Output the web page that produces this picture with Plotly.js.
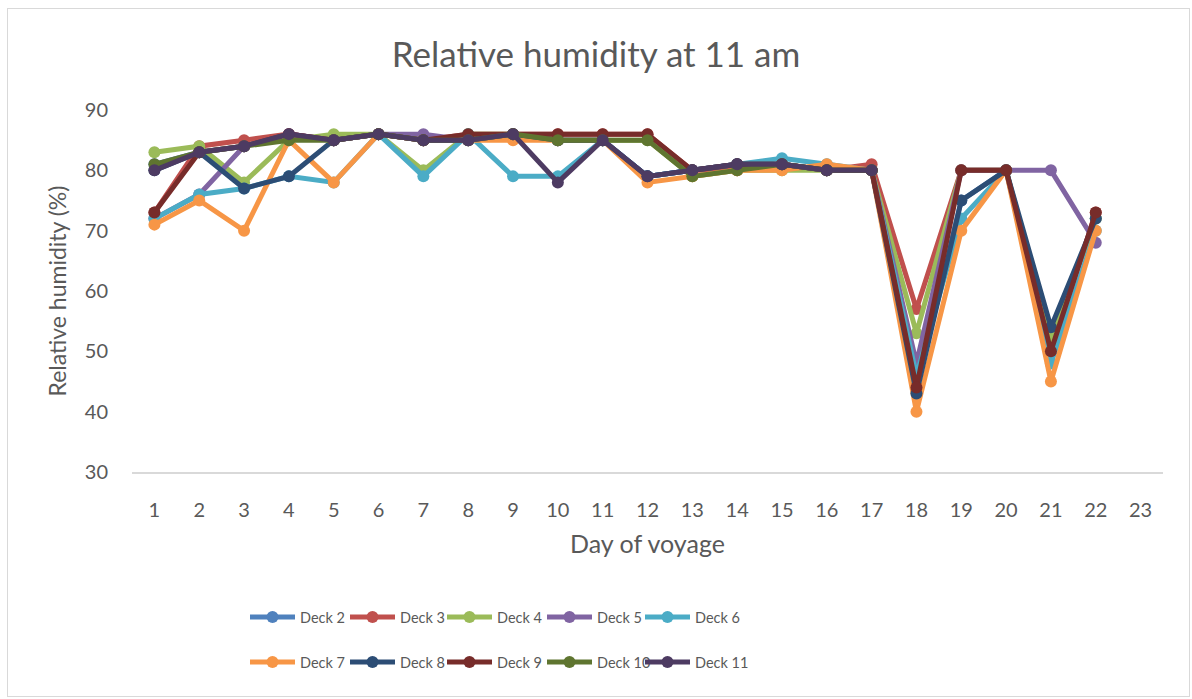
<!DOCTYPE html>
<html>
<head>
<meta charset="utf-8">
<script src="https://cdn.plot.ly/plotly-3.0.1.min.js"></script>
<style>
  html, body { margin: 0; padding: 0; background: #ffffff; }
  #frame { position: absolute; left: 7px; top: 8px; width: 1183px; height: 689px; border: 1px solid #d9d9d9; box-sizing: border-box; }
  #chart { position: absolute; left: 0; top: 0; width: 1192px; height: 699px; }
</style>
</head>
<body>
<div id="frame"></div>
<div id="chart"></div>
<script>
// Day of voyage (category labels)
const days = [1,2,3,4,5,6,7,8,9,10,11,12,13,14,15,16,17,18,19,20,21,22,23];

// Relative humidity (%) per deck (null = no reading)
const deck2  = [81,83,84,86,85,86,85,85,86,85,85,79,80,81,81,80,80,44,75,80,52,72,null];
const deck3  = [73,84,85,86,85,86,85,86,86,86,86,86,80,80,81,80,81,57,80,80,50,73,null];
const deck4  = [83,84,78,85,86,86,80,86,86,85,85,85,79,80,80,80,80,53,80,80,52,72,null];
const deck5  = [72,76,84,86,85,86,86,85,86,85,85,79,80,81,81,80,80,48,80,80,80,68,null];
const deck6  = [72,76,77,79,78,86,79,86,79,79,85,79,80,81,82,81,80,46,72,80,48,70,null];
const deck7  = [71,75,70,85,78,86,85,85,85,85,85,78,79,80,80,81,80,40,70,80,45,70,null];
const deck8  = [80,83,77,79,85,86,85,85,86,85,85,79,80,81,81,80,80,43,75,80,54,72,null];
const deck9  = [73,83,84,86,85,86,85,86,86,86,86,86,80,81,81,80,80,44,80,80,50,73,null];
const deck10 = [81,83,84,85,85,86,85,85,86,85,85,85,79,80,81,80,80,null,null,null,null,null,null];
const deck11 = [80,83,84,86,85,86,85,85,86,78,85,79,80,81,81,80,80,null,null,null,null,null,null];

const seriesNames = ["Deck 2","Deck 3","Deck 4","Deck 5","Deck 6","Deck 7","Deck 8","Deck 9","Deck 10","Deck 11"];
const seriesValues = [deck2,deck3,deck4,deck5,deck6,deck7,deck8,deck9,deck10,deck11];
const seriesColors = ["#4F81BD","#C0504D","#9BBB59","#8064A2","#4BACC6","#F79646","#2C4D75","#772C2A","#5F7530","#4D3B62"];

const FONT = "Lato, 'Open Sans', 'Liberation Sans', sans-serif";
const TXT = "#595959";

// one legend per entry so each can sit at its own spot (5 per row, 2 rows)
const legendKey = i => (i === 0 ? "legend" : "legend" + (i + 1));

const traces = seriesNames.map((name, i) => ({
  type: "scatter",
  mode: "lines+markers",
  name: name,
  x: days,
  y: seriesValues[i],
  line: { color: seriesColors[i], width: 5 },
  marker: { color: seriesColors[i], size: 12 },
  legend: legendKey(i),
  hoverinfo: "x+y+name"
}));

const legendCommon = {
  orientation: "h",
  xanchor: "left",
  yanchor: "middle",
  font: { family: FONT, size: 14.5, color: TXT },
  bgcolor: "rgba(0,0,0,0)",
  itemwidth: 45,
  xref: "container",
  yref: "container"
};

const layout = {
  width: 1192,
  height: 699,
  paper_bgcolor: "rgba(0,0,0,0)",
  plot_bgcolor: "rgba(0,0,0,0)",
  margin: { l: 132, r: 29, t: 110, b: 227 },
  showlegend: true,
  font: { family: FONT, color: TXT },
  title: {
    text: "Relative humidity at 11 am",
    font: { family: FONT, size: 35, color: TXT },
    x: 0.5, xref: "container", xanchor: "center",
    y: 55, yref: "container", yanchor: "middle"
  },
  xaxis: {
    range: [0.5, 23.5],
    tickmode: "array",
    tickvals: days,
    ticktext: days.map(String),
    showgrid: false,
    zeroline: false,
    showline: true,
    linecolor: "#d9d9d9",
    linewidth: 1.5,
    ticks: "",
    ticklabelstandoff: 19,
    tickfont: { family: FONT, size: 20, color: TXT },
    title: { text: "Day of voyage", font: { family: FONT, size: 25, color: TXT }, standoff: 16 },
    fixedrange: true
  },
  yaxis: {
    range: [30, 90],
    tickmode: "array",
    tickvals: [30,40,50,60,70,80,90],
    showgrid: false,
    zeroline: false,
    showline: false,
    ticks: "",
    ticklabelstandoff: 23,
    tickfont: { family: FONT, size: 20, color: TXT },
    title: { text: "Relative humidity (%)", font: { family: FONT, size: 23, color: TXT }, standoff: 11 },
    fixedrange: true
  }
};

// text start positions of the legend entries (px), minus symbol + gap
const legendX = [245, 345, 442, 542, 640];
const legendY = [617, 662];
seriesNames.forEach((n, i) => {
  layout[legendKey(i)] = Object.assign({}, legendCommon, {
    x: legendX[i % 5] / 1192,
    y: 1 - legendY[Math.floor(i / 5)] / 699
  });
});

Plotly.newPlot("chart", traces, layout, { displayModeBar: false, staticPlot: true });
</script>
</body>
</html>
